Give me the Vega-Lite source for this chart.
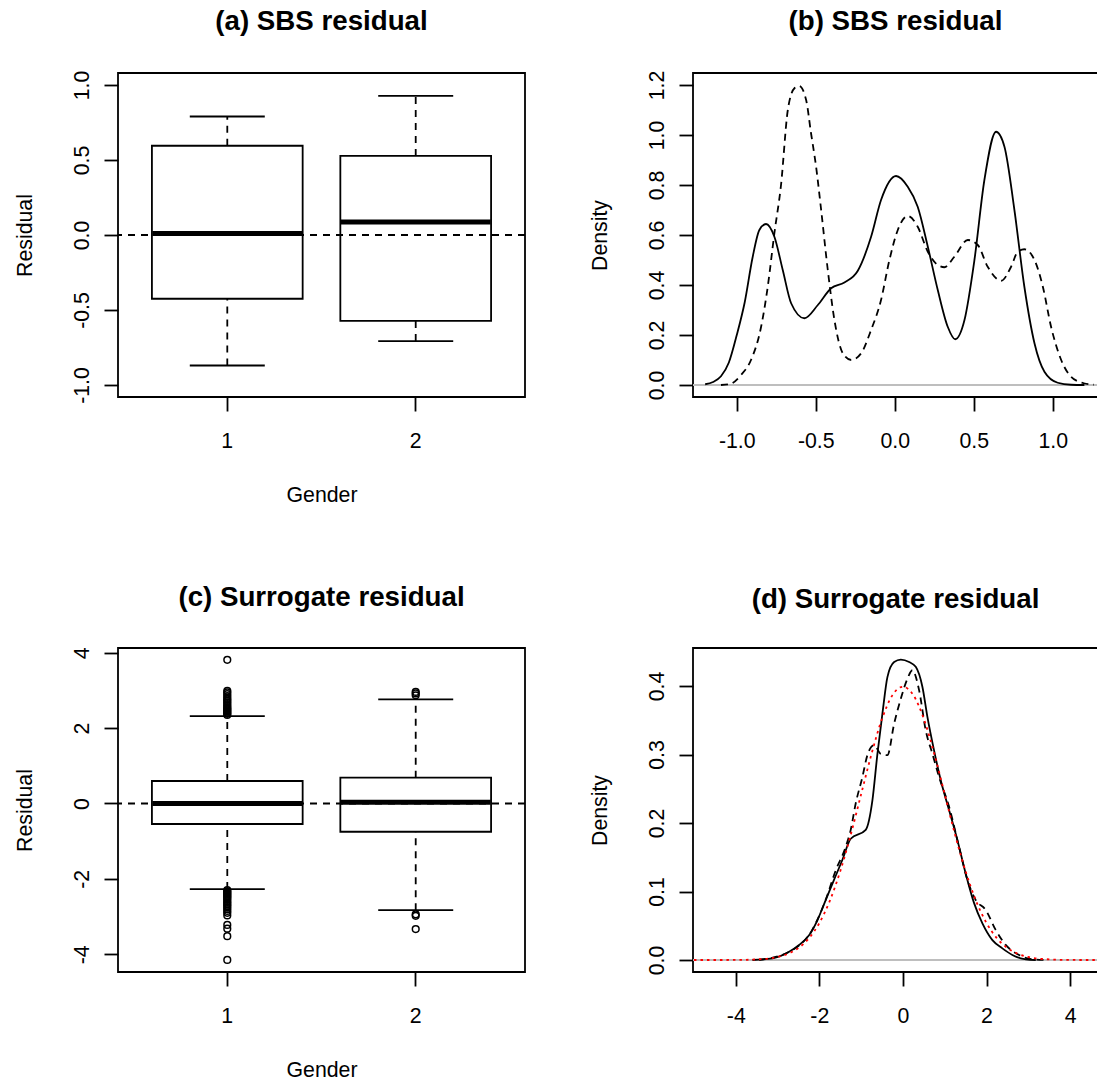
{
  "$schema": "https://vega.github.io/schema/vega-lite/v6.json",
  "usermeta": {"embedOptions": {"actions": false}},
  "autosize": {"type": "pad"},
  "padding": {"left": 13, "top": 6, "right": 0, "bottom": 0},
  "background": "white",
  "config": {
    "font": "Liberation Sans",
    "view": {"stroke": "black", "strokeWidth": 1.8},
    "axis": {
      "domain": false, "grid": false, "ticks": true, "tickColor": "black", "tickWidth": 1.8, "tickSize": 14,
      "labelFont": "Liberation Sans", "labelFontSize": 21.3, "labelColor": "black",
      "labelOverlap": false, "labelFlush": false, "labelBound": false,
      "titleFont": "Liberation Sans", "titleFontSize": 21.3, "titleFontWeight": "normal", "titleColor": "black"
    },
    "axisX": {"labelBaseline": "alphabetic", "labelPadding": 36, "labelAngle": 0, "titleBaseline": "alphabetic", "titleY": 104.5},
    "axisY": {"labelAngle": 270, "labelAlign": "center", "labelBaseline": "alphabetic", "labelPadding": 16, "titleX": -87, "titleBaseline": "alphabetic", "titleAngle": 270},
    "title": {"font": "Liberation Sans", "fontSize": 27.7, "fontWeight": "bold", "color": "black", "baseline": "alphabetic", "offset": 34.7, "anchor": "middle"}
  },
  "datasets": {
    "boxA": [
      {"gender": "1", "lo": -0.87, "q1": -0.425, "med": 0.01, "q3": 0.595, "hi": 0.79},
      {"gender": "2", "lo": -0.707, "q1": -0.573, "med": 0.087, "q3": 0.527, "hi": 0.927}
    ],
    "boxC": [
      {"gender": "1", "lo": -2.27, "q1": -0.544, "med": 0.0, "q3": 0.597, "hi": 2.32},
      {"gender": "2", "lo": -2.83, "q1": -0.75, "med": 0.03, "q3": 0.685, "hi": 2.76}
    ],
    "outC": [
      {"gender": "1", "v": 2.35}, {"gender": "1", "v": 2.38}, {"gender": "1", "v": 2.41}, {"gender": "1", "v": 2.44},
      {"gender": "1", "v": 2.47}, {"gender": "1", "v": 2.5}, {"gender": "1", "v": 2.53}, {"gender": "1", "v": 2.56},
      {"gender": "1", "v": 2.6}, {"gender": "1", "v": 2.64}, {"gender": "1", "v": 2.68}, {"gender": "1", "v": 2.72},
      {"gender": "1", "v": 2.76}, {"gender": "1", "v": 2.8}, {"gender": "1", "v": 2.85}, {"gender": "1", "v": 2.9},
      {"gender": "1", "v": 2.95}, {"gender": "1", "v": 2.99}, {"gender": "1", "v": 3.81},
      {"gender": "1", "v": -2.3}, {"gender": "1", "v": -2.33}, {"gender": "1", "v": -2.36}, {"gender": "1", "v": -2.39},
      {"gender": "1", "v": -2.42}, {"gender": "1", "v": -2.45}, {"gender": "1", "v": -2.48}, {"gender": "1", "v": -2.51},
      {"gender": "1", "v": -2.55}, {"gender": "1", "v": -2.59}, {"gender": "1", "v": -2.63}, {"gender": "1", "v": -2.67},
      {"gender": "1", "v": -2.71}, {"gender": "1", "v": -2.75}, {"gender": "1", "v": -2.8}, {"gender": "1", "v": -2.85},
      {"gender": "1", "v": -2.9}, {"gender": "1", "v": -2.97}, {"gender": "1", "v": -3.22}, {"gender": "1", "v": -3.32},
      {"gender": "1", "v": -3.52}, {"gender": "1", "v": -4.15},
      {"gender": "2", "v": 2.87}, {"gender": "2", "v": 2.92}, {"gender": "2", "v": 2.96},
      {"gender": "2", "v": -2.94}, {"gender": "2", "v": -2.98}, {"gender": "2", "v": -3.33}
    ],
    "denB1": [
      {"x": -1.2, "y": 0.003}, {"x": -1.15, "y": 0.012}, {"x": -1.1, "y": 0.035}, {"x": -1.05, "y": 0.09},
      {"x": -1.0, "y": 0.2}, {"x": -0.95, "y": 0.33}, {"x": -0.9, "y": 0.51}, {"x": -0.857, "y": 0.62},
      {"x": -0.815, "y": 0.644}, {"x": -0.762, "y": 0.593}, {"x": -0.709, "y": 0.46}, {"x": -0.656, "y": 0.327},
      {"x": -0.572, "y": 0.267}, {"x": -0.487, "y": 0.32}, {"x": -0.403, "y": 0.387}, {"x": -0.319, "y": 0.41},
      {"x": -0.234, "y": 0.457}, {"x": -0.15, "y": 0.593}, {"x": -0.087, "y": 0.74}, {"x": 0.008, "y": 0.836},
      {"x": 0.082, "y": 0.793}, {"x": 0.145, "y": 0.713}, {"x": 0.209, "y": 0.553}, {"x": 0.272, "y": 0.38},
      {"x": 0.335, "y": 0.233}, {"x": 0.382, "y": 0.183}, {"x": 0.441, "y": 0.26}, {"x": 0.504, "y": 0.5},
      {"x": 0.567, "y": 0.82}, {"x": 0.641, "y": 1.013}, {"x": 0.694, "y": 0.953}, {"x": 0.757, "y": 0.7},
      {"x": 0.82, "y": 0.393}, {"x": 0.884, "y": 0.167}, {"x": 0.947, "y": 0.053}, {"x": 1.031, "y": 0.009},
      {"x": 1.116, "y": 0.001}, {"x": 1.2, "y": 0.0}
    ],
    "denB2": [
      {"x": -1.1, "y": 0.0}, {"x": -1.047, "y": 0.003}, {"x": -0.973, "y": 0.04}, {"x": -0.91, "y": 0.1},
      {"x": -0.846, "y": 0.233}, {"x": -0.804, "y": 0.393}, {"x": -0.762, "y": 0.607}, {"x": -0.72, "y": 0.8},
      {"x": -0.677, "y": 1.1}, {"x": -0.635, "y": 1.187}, {"x": -0.604, "y": 1.196}, {"x": -0.561, "y": 1.14},
      {"x": -0.53, "y": 1.007}, {"x": -0.498, "y": 0.873}, {"x": -0.466, "y": 0.7}, {"x": -0.424, "y": 0.46},
      {"x": -0.382, "y": 0.26}, {"x": -0.329, "y": 0.127}, {"x": -0.276, "y": 0.1}, {"x": -0.213, "y": 0.127},
      {"x": -0.15, "y": 0.22}, {"x": -0.087, "y": 0.34}, {"x": -0.034, "y": 0.5}, {"x": 0.019, "y": 0.62},
      {"x": 0.082, "y": 0.676}, {"x": 0.145, "y": 0.633}, {"x": 0.209, "y": 0.533}, {"x": 0.272, "y": 0.48},
      {"x": 0.314, "y": 0.471}, {"x": 0.377, "y": 0.513}, {"x": 0.462, "y": 0.58}, {"x": 0.525, "y": 0.56},
      {"x": 0.588, "y": 0.473}, {"x": 0.673, "y": 0.417}, {"x": 0.736, "y": 0.473}, {"x": 0.778, "y": 0.533},
      {"x": 0.82, "y": 0.543}, {"x": 0.884, "y": 0.5}, {"x": 0.937, "y": 0.393}, {"x": 0.989, "y": 0.233},
      {"x": 1.053, "y": 0.1}, {"x": 1.116, "y": 0.033}, {"x": 1.196, "y": 0.007}, {"x": 1.26, "y": 0.001}
    ],
    "denD1": [
      {"x": -3.6, "y": 0.0}, {"x": -3.12, "y": 0.0024}, {"x": -2.724, "y": 0.012}, {"x": -2.485, "y": 0.022},
      {"x": -2.246, "y": 0.036}, {"x": -2.047, "y": 0.058}, {"x": -1.848, "y": 0.0875}, {"x": -1.649, "y": 0.117},
      {"x": -1.45, "y": 0.146}, {"x": -1.249, "y": 0.177}, {"x": -0.89, "y": 0.19}, {"x": -0.73, "y": 0.233},
      {"x": -0.61, "y": 0.301}, {"x": -0.49, "y": 0.36}, {"x": -0.371, "y": 0.413}, {"x": -0.21, "y": 0.435},
      {"x": -0.05, "y": 0.4385}, {"x": 0.149, "y": 0.435}, {"x": 0.307, "y": 0.428}, {"x": 0.467, "y": 0.3986},
      {"x": 0.586, "y": 0.355}, {"x": 0.745, "y": 0.306}, {"x": 0.905, "y": 0.2625}, {"x": 1.104, "y": 0.219},
      {"x": 1.304, "y": 0.175}, {"x": 1.503, "y": 0.126}, {"x": 1.703, "y": 0.083}, {"x": 1.902, "y": 0.0535},
      {"x": 2.141, "y": 0.029}, {"x": 2.38, "y": 0.017}, {"x": 2.62, "y": 0.0073}, {"x": 2.94, "y": 0.001},
      {"x": 3.18, "y": 0.0}
    ],
    "denD2": [
      {"x": -3.44, "y": 0.0}, {"x": -2.64, "y": 0.0146}, {"x": -2.17, "y": 0.044}, {"x": -1.85, "y": 0.0875},
      {"x": -1.607, "y": 0.131}, {"x": -1.37, "y": 0.165}, {"x": -1.249, "y": 0.19}, {"x": -1.13, "y": 0.2285},
      {"x": -0.97, "y": 0.267}, {"x": -0.85, "y": 0.299}, {"x": -0.69, "y": 0.3135}, {"x": -0.53, "y": 0.301},
      {"x": -0.371, "y": 0.299}, {"x": -0.21, "y": 0.345}, {"x": -0.05, "y": 0.3816}, {"x": 0.11, "y": 0.411},
      {"x": 0.227, "y": 0.423}, {"x": 0.387, "y": 0.394}, {"x": 0.547, "y": 0.335}, {"x": 0.706, "y": 0.301},
      {"x": 0.866, "y": 0.267}, {"x": 1.104, "y": 0.224}, {"x": 1.343, "y": 0.165}, {"x": 1.543, "y": 0.117},
      {"x": 1.743, "y": 0.0875}, {"x": 1.982, "y": 0.073}, {"x": 2.22, "y": 0.044}, {"x": 2.46, "y": 0.022},
      {"x": 2.78, "y": 0.0073}, {"x": 3.1, "y": 0.001}, {"x": 3.42, "y": 0.0}
    ],
    "normD": [
      {"x": -5.0, "y": 0.0}, {"x": -4.5, "y": 0.00002}, {"x": -4.0, "y": 0.0001}, {"x": -3.5, "y": 0.0009},
      {"x": -3.0, "y": 0.0044}, {"x": -2.75, "y": 0.0091}, {"x": -2.5, "y": 0.0175}, {"x": -2.25, "y": 0.0317},
      {"x": -2.0, "y": 0.054}, {"x": -1.75, "y": 0.0863}, {"x": -1.5, "y": 0.1295}, {"x": -1.25, "y": 0.1826},
      {"x": -1.0, "y": 0.242}, {"x": -0.75, "y": 0.3011}, {"x": -0.5, "y": 0.3521}, {"x": -0.25, "y": 0.3867},
      {"x": 0.0, "y": 0.3989}, {"x": 0.25, "y": 0.3867}, {"x": 0.5, "y": 0.3521}, {"x": 0.75, "y": 0.3011},
      {"x": 1.0, "y": 0.242}, {"x": 1.25, "y": 0.1826}, {"x": 1.5, "y": 0.1295}, {"x": 1.75, "y": 0.0863},
      {"x": 2.0, "y": 0.054}, {"x": 2.25, "y": 0.0317}, {"x": 2.5, "y": 0.0175}, {"x": 2.75, "y": 0.0091},
      {"x": 3.0, "y": 0.0044}, {"x": 3.5, "y": 0.0009}, {"x": 4.0, "y": 0.0001}, {"x": 4.5, "y": 0.00002},
      {"x": 4.7, "y": 0.0}
    ]
  },
  "columns": 2,
  "spacing": {"row": 251, "column": 168},
  "bounds": "flush",
  "concat": [
    {
      "width": 407, "height": 324,
      "title": "(a) SBS residual",
      "data": {"name": "boxA"},
      "layer": [
        {"mark": {"type": "rule", "strokeDash": [7, 6], "strokeWidth": 1.8, "color": "black"},
         "encoding": {
           "x": {"field": "gender", "type": "nominal", "bandPosition": 0.5, "scale": {"type": "band", "domain": ["1", "2"], "paddingInner": 0.2, "paddingOuter": 0.18}, "axis": {"title": "Gender", "bandPosition": 0.5}},
           "y": {"field": "lo", "type": "quantitative", "scale": {"domain": [-1.08, 1.08], "nice": false, "zero": false}, "axis": {"title": "Residual", "values": [-1, -0.5, 0, 0.5, 1], "labelExpr": "replace(format(datum.value, '.1f'), '\u2212', '-')"}},
           "y2": {"field": "q1"}}},
        {"mark": {"type": "rule", "strokeDash": [7, 6], "strokeWidth": 1.8, "color": "black"},
         "encoding": {"x": {"field": "gender", "type": "nominal", "bandPosition": 0.5}, "y": {"field": "q3", "type": "quantitative"}, "y2": {"field": "hi"}}},
        {"mark": {"type": "bar", "fill": "white", "stroke": "black", "strokeWidth": 1.8},
         "encoding": {"x": {"field": "gender", "type": "nominal"}, "y": {"field": "q1", "type": "quantitative"}, "y2": {"field": "q3"}}},
        {"mark": {"type": "tick", "size": 150, "thickness": 5, "color": "black", "opacity": 1},
         "encoding": {"x": {"field": "gender", "type": "nominal"}, "y": {"field": "med", "type": "quantitative"}}},
        {"mark": {"type": "tick", "size": 75, "thickness": 1.8, "color": "black", "opacity": 1},
         "encoding": {"x": {"field": "gender", "type": "nominal"}, "y": {"field": "lo", "type": "quantitative"}}},
        {"mark": {"type": "tick", "size": 75, "thickness": 1.8, "color": "black", "opacity": 1},
         "encoding": {"x": {"field": "gender", "type": "nominal"}, "y": {"field": "hi", "type": "quantitative"}}},
        {"mark": {"type": "rule", "strokeDash": [7, 6], "strokeWidth": 1.8, "color": "black"},
         "encoding": {"y": {"datum": 0, "type": "quantitative"}}}
      ]
    },
    {
      "width": 405, "height": 324,
      "title": "(b) SBS residual",
      "layer": [
        {"data": {"values": [{"z": 0}]},
         "mark": {"type": "rule", "color": "#bebebe", "strokeWidth": 1.8},
         "encoding": {"y": {"field": "z", "type": "quantitative", "scale": {"domain": [-0.048, 1.248], "nice": false, "zero": false}, "axis": {"title": "Density", "values": [0, 0.2, 0.4, 0.6, 0.8, 1, 1.2], "format": ".1f"}}}},
        {"data": {"name": "denB1"},
         "mark": {"type": "line", "color": "black", "strokeWidth": 1.8, "interpolate": "monotone", "clip": true},
         "encoding": {
           "x": {"field": "x", "type": "quantitative", "scale": {"domain": [-1.277, 1.286], "nice": false, "zero": false}, "axis": {"title": null, "values": [-1, -0.5, 0, 0.5, 1], "labelExpr": "replace(format(datum.value, '.1f'), '\u2212', '-')"}},
           "y": {"field": "y", "type": "quantitative"}}},
        {"data": {"name": "denB2"},
         "mark": {"type": "line", "color": "black", "strokeWidth": 1.8, "strokeDash": [7, 5], "interpolate": "monotone", "clip": true},
         "encoding": {"x": {"field": "x", "type": "quantitative"}, "y": {"field": "y", "type": "quantitative"}}}
      ]
    },
    {
      "width": 407, "height": 324,
      "title": "(c) Surrogate residual",
      "layer": [
        {"data": {"name": "boxC"},
         "mark": {"type": "rule", "strokeDash": [7, 6], "strokeWidth": 1.8, "color": "black"},
         "encoding": {
           "x": {"field": "gender", "type": "nominal", "bandPosition": 0.5, "scale": {"type": "band", "domain": ["1", "2"], "paddingInner": 0.2, "paddingOuter": 0.18}, "axis": {"title": "Gender", "bandPosition": 0.5}},
           "y": {"field": "lo", "type": "quantitative", "scale": {"domain": [-4.47, 4.125], "nice": false, "zero": false}, "axis": {"title": "Residual", "values": [-4, -2, 0, 2, 4], "labelExpr": "replace(format(datum.value, 'd'), '\u2212', '-')"}},
           "y2": {"field": "q1"}}},
        {"data": {"name": "boxC"},
         "mark": {"type": "rule", "strokeDash": [7, 6], "strokeWidth": 1.8, "color": "black"},
         "encoding": {"x": {"field": "gender", "type": "nominal", "bandPosition": 0.5}, "y": {"field": "q3", "type": "quantitative"}, "y2": {"field": "hi"}}},
        {"data": {"name": "boxC"},
         "mark": {"type": "bar", "fill": "white", "stroke": "black", "strokeWidth": 1.8},
         "encoding": {"x": {"field": "gender", "type": "nominal"}, "y": {"field": "q1", "type": "quantitative"}, "y2": {"field": "q3"}}},
        {"data": {"name": "boxC"},
         "mark": {"type": "tick", "size": 150, "thickness": 5, "color": "black", "opacity": 1},
         "encoding": {"x": {"field": "gender", "type": "nominal"}, "y": {"field": "med", "type": "quantitative"}}},
        {"data": {"name": "boxC"},
         "mark": {"type": "tick", "size": 75, "thickness": 1.8, "color": "black", "opacity": 1},
         "encoding": {"x": {"field": "gender", "type": "nominal"}, "y": {"field": "lo", "type": "quantitative"}}},
        {"data": {"name": "boxC"},
         "mark": {"type": "tick", "size": 75, "thickness": 1.8, "color": "black", "opacity": 1},
         "encoding": {"x": {"field": "gender", "type": "nominal"}, "y": {"field": "hi", "type": "quantitative"}}},
        {"data": {"name": "outC"},
         "mark": {"type": "point", "shape": "circle", "filled": false, "size": 45, "strokeWidth": 1.5, "color": "black", "opacity": 1},
         "encoding": {"x": {"field": "gender", "type": "nominal", "bandPosition": 0.5}, "y": {"field": "v", "type": "quantitative"}}},
        {"data": {"values": [{"z": 0}]},
         "mark": {"type": "rule", "strokeDash": [7, 6], "strokeWidth": 1.8, "color": "black"},
         "encoding": {"y": {"field": "z", "type": "quantitative"}}}
      ]
    },
    {
      "width": 405, "height": 324,
      "title": "(d) Surrogate residual",
      "layer": [
        {"data": {"values": [{"z": 0}]},
         "mark": {"type": "rule", "color": "#bebebe", "strokeWidth": 1.8},
         "encoding": {"y": {"field": "z", "type": "quantitative", "scale": {"domain": [-0.0175, 0.4555], "nice": false, "zero": false}, "axis": {"title": "Density", "values": [0, 0.1, 0.2, 0.3, 0.4], "format": ".1f"}}}},
        {"data": {"name": "denD1"},
         "mark": {"type": "line", "color": "black", "strokeWidth": 1.8, "interpolate": "monotone", "clip": true},
         "encoding": {
           "x": {"field": "x", "type": "quantitative", "scale": {"domain": [-5.023, 4.668], "nice": false, "zero": false}, "axis": {"title": null, "values": [-4, -2, 0, 2, 4], "labelExpr": "replace(format(datum.value, 'd'), '\u2212', '-')"}},
           "y": {"field": "y", "type": "quantitative"}}},
        {"data": {"name": "denD2"},
         "mark": {"type": "line", "color": "black", "strokeWidth": 1.8, "strokeDash": [7, 5], "interpolate": "monotone", "clip": true},
         "encoding": {"x": {"field": "x", "type": "quantitative"}, "y": {"field": "y", "type": "quantitative"}}},
        {"data": {"name": "normD"},
         "mark": {"type": "line", "color": "red", "strokeWidth": 1.8, "strokeDash": [2.5, 4], "interpolate": "monotone", "clip": true},
         "encoding": {"x": {"field": "x", "type": "quantitative"}, "y": {"field": "y", "type": "quantitative"}}}
      ]
    }
  ]
}
